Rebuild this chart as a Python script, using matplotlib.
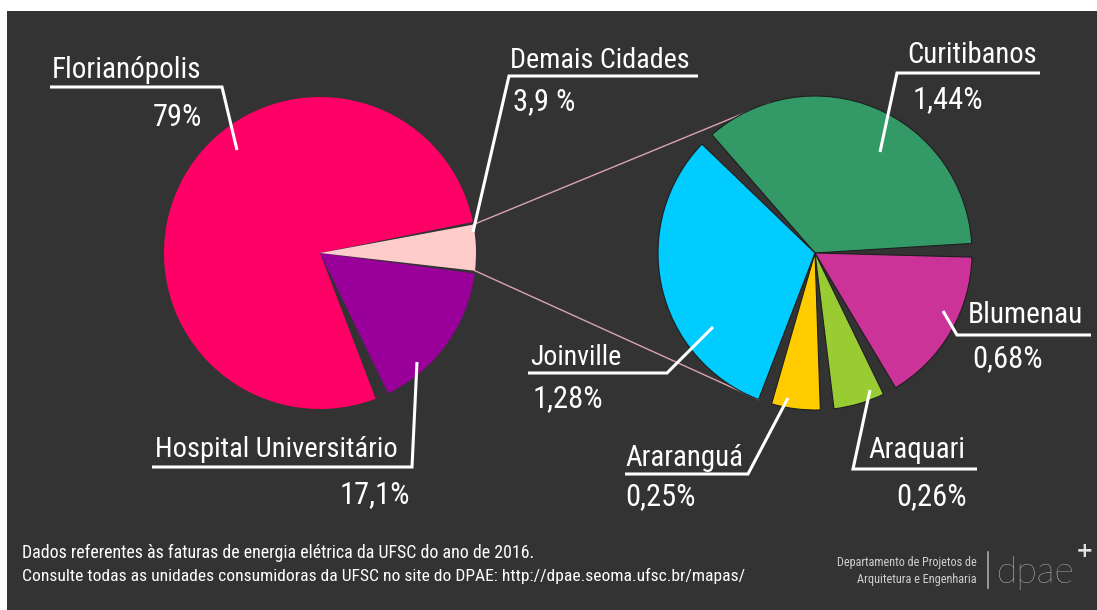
import matplotlib
matplotlib.use("Agg")
import matplotlib.pyplot as plt
import numpy as np
from matplotlib.patches import Rectangle
from matplotlib import font_manager as fm

W, H = 1097, 610

# ---------------- data ----------------
left_labels = ["Florianópolis", "Hospital Universitário", "Demais Cidades"]
left_values = [79.0, 17.1, 3.9]
left_pct = ["79%", "17,1%", "3,9 %"]
left_colors = ["#FF0066", "#990099", "#FFCCCC"]

right_labels = ["Curitibanos", "Joinville", "Araranguá", "Araquari", "Blumenau"]
right_values = [1.44, 1.28, 0.25, 0.26, 0.68]
right_pct = ["1,44%", "1,28%", "0,25%", "0,26%", "0,68%"]
right_colors = ["#339966", "#00CCFF", "#FFCC00", "#99CC33", "#CC3399"]

footer_lines = [
    "Dados referentes às faturas de energia elétrica da UFSC do ano de 2016.",
    "Consulte todas as unidades consumidoras da UFSC no site do DPAE: http://dpae.seoma.ufsc.br/mapas/",
]
logo_lines = ["Departamento de Projetos de", "Arquitetura e Engenharia"]
logo_word = "dpae"

# ---------------- style ----------------
BG = "#333333"


def pick_font():
    names = {f.name for f in fm.fontManager.ttflist}
    for p in ["Liberation Sans Narrow", "Roboto Condensed", "Open Sans Condensed",
              "Noto Sans Condensed", "Ubuntu Condensed", "Arial Narrow"]:
        if p in names:
            return p, "normal"
    for f in fm.fontManager.ttflist:
        st = str(f.stretch)
        if f.name in ("DejaVu Sans", "Noto Sans", "Open Sans", "Roboto") and \
                ("condensed" in st or st in ("500", "400")) and "condensed" in st:
            return f.name, st
    return "Roboto", "normal"


FONTNAME, STRETCH = pick_font()
FONT = [FONTNAME, "DejaVu Sans"]


def Y(y):
    return H - y


fig = plt.figure(figsize=(W / 100, H / 100), dpi=100, facecolor="white")
ax = fig.add_axes([0, 0, 1, 1])
ax.add_patch(Rectangle((7, 0), W - 7, H - 11, facecolor=BG, edgecolor="none", zorder=0))

# left pie
lc = (320, Y(253))
lw_, _ = ax.pie(left_values, colors=left_colors, startangle=9, counterclock=True,
                center=lc, radius=156, wedgeprops=dict(linewidth=0), normalize=True)
for w, g in zip(lw_, [2.5, 2.5, -1.5]):
    w.set_theta1(w.theta1 + g)
    w.set_theta2(w.theta2 - g)
    w.set_zorder(3)

# right pie
rc = (815, Y(253))
rw_, _ = ax.pie(right_values, colors=right_colors, startangle=1, counterclock=True,
                center=rc, radius=157,
                wedgeprops=dict(linewidth=0.8, edgecolor="#1e1e1e"), normalize=True)
for w in rw_:
    w.set_theta1(w.theta1 + 2.5)
    w.set_theta2(w.theta2 - 2.5)
    w.set_zorder(3)

ax.set_xlim(0, W)
ax.set_ylim(0, H)
ax.set_aspect("auto")
ax.axis("off")

# connector lines between Demais Cidades wedge and right pie
dem = lw_[2]


def corner(wedge, ang):
    cx, cy = wedge.center
    return cx + wedge.r * np.cos(np.radians(ang)), cy + wedge.r * np.sin(np.radians(ang))


p_top = corner(dem, dem.theta2)
p_bot = corner(dem, dem.theta1)
q_top = corner(rw_[0], 107)
q_bot = corner(rw_[1], rw_[1].theta2)
ax.plot([p_top[0], q_top[0]], [p_top[1], q_top[1]], color="#d9a3b3", lw=1.0, zorder=2)
ax.plot([p_bot[0], q_bot[0]], [p_bot[1], q_bot[1]], color="#d9a3b3", lw=1.0, zorder=2)

renderer = fig.canvas.get_renderer()


def leader(xs, ys):
    ax.plot(xs, [Y(v) for v in ys], color="white", lw=2.2, zorder=5,
            solid_capstyle="butt", solid_joinstyle="miter")


def txt(x, y, s, fs, target_w, ha="left", color="white", family=None, weight="normal"):
    t = ax.text(x, Y(y), s, fontsize=fs, color=color, family=family or FONT,
                fontstretch=STRETCH, fontweight=weight,
                ha=ha, va="baseline", zorder=6)
    wpx = t.get_window_extent(renderer).width
    if wpx > 0:
        t.set_fontsize(min(fs, fs * target_w / wpx))
    return t


NFS, PFS = 23, 22

# Florianópolis
txt(52, 78, left_labels[0], NFS, 150)
leader([50, 222, 237], [87, 87, 150])
txt(202, 126, left_pct[0], PFS, 50, ha="right")

# Hospital Universitário
txt(155, 457, left_labels[1], NFS, 243)
leader([152, 412, 417], [467, 467, 362])
txt(410, 503, left_pct[1], PFS, 72, ha="right")

# Demais Cidades
txt(510, 68, left_labels[2], NFS, 180)
leader([698, 509, 473], [76, 76, 232])
txt(513, 110, left_pct[2], PFS, 67)

# Curitibanos
txt(907, 63, right_labels[0], NFS, 130)
leader([1040, 897, 880], [73, 73, 152])
txt(913, 108, right_pct[0], PFS, 74)

# Joinville
txt(530, 365, right_labels[1], NFS, 92)
leader([528, 667, 713], [373, 373, 327])
txt(533, 407, right_pct[1], PFS, 74)

# Araranguá
txt(625, 466, right_labels[2], NFS, 118)
leader([625, 748, 788], [474, 474, 398])
txt(625, 505, right_pct[2], PFS, 73)

# Araquari
txt(868, 458, right_labels[3], NFS, 97)
leader([977, 853, 870], [469, 469, 390])
txt(967, 505, right_pct[3], PFS, 74, ha="right")

# Blumenau
txt(968, 323, right_labels[4], NFS, 116)
leader([1091, 957, 943], [335, 335, 311])
txt(972, 367, right_pct[4], PFS, 75)

# footer
txt(22, 558, footer_lines[0], 13, 511)
txt(22, 581, footer_lines[1], 13, 716)

# logo
txt(977, 566, logo_lines[0], 9, 140, ha="right", color="#d0d0d0")
txt(977, 583, logo_lines[1], 9, 120, ha="right", color="#d0d0d0")
ax.plot([988, 988], [Y(552), Y(588)], color="#aaaaaa", lw=1.2, zorder=6)
txt(997, 583, logo_word, 27, 80, color="#e0e0e0", family=["Lato", "DejaVu Sans"], weight="light")
ax.text(1085, Y(557), "+", fontsize=15, color="#e0e0e0", family="DejaVu Sans",
        fontweight="bold", ha="center", va="baseline", zorder=6)

fig.savefig("out.png", dpi=100, facecolor="white")
